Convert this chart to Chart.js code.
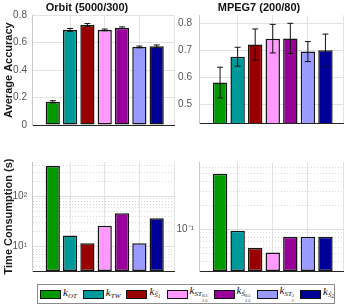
<!DOCTYPE html>
<html>
<head>
<meta charset="utf-8">
<script src="https://cdn.jsdelivr.net/npm/chart.js@4"></script>
<style>
  body{margin:0;background:#fff;width:349px;height:308px;position:relative;overflow:hidden;}
  canvas{position:absolute;}
  #legend{position:absolute;left:37px;top:284px;width:298px;height:20px;border:1px solid #8c8c8c;background:#fff;
    display:flex;align-items:center;padding-left:2px;box-sizing:border-box;font-family:"Liberation Serif","DejaVu Serif",serif;}
  .it{display:flex;align-items:center;margin-right:6px;}
  .sw{width:19px;height:7px;border:1px solid #111;margin-right:2px;}
  .lb{font-style:italic;font-size:11px;color:#111;line-height:11px;white-space:nowrap;}
  .lb sub{font-size:7px;vertical-align:-2px;}
  .lb sub sub{font-size:5.5px;vertical-align:-1px;}
  .stk{display:inline-flex;flex-direction:column;font-size:4.5px;line-height:4.5px;vertical-align:-1px;}
</style>
</head>
<body>
<canvas id="c1" width="180" height="136" style="left:0;top:0"></canvas>
<canvas id="c2" width="174" height="136" style="left:175px;top:0"></canvas>
<canvas id="c3" width="180" height="132" style="left:0;top:150px"></canvas>
<canvas id="c4" width="174" height="132" style="left:175px;top:150px"></canvas>
<div id="legend"></div>
<script>
// データ
var methods = ['k_OT', 'k_TW', 'k_S1', 'k_ST0.5_1.5', 'k_S0.5_1.5', 'k_ST2_1', 'k_S2'];
var colors = ['#009900', '#009999', '#990000', '#ff99ff', '#990099', '#9999ff', '#000099'];
var orbitAcc = [0.169, 0.693, 0.729, 0.693, 0.709, 0.569, 0.573];
var orbitErr = [0.008, 0.010, 0.010, 0.006, 0.006, 0.006, 0.010];
var mpegAcc = [0.580, 0.676, 0.721, 0.743, 0.744, 0.695, 0.700];
var mpegErr = [0.057, 0.035, 0.058, 0.053, 0.056, 0.037, 0.060];
var orbitTime = [398, 16.7, 11.7, 26.2, 46.4, 11.7, 36.6];
var mpegTime = [0.50, 0.096, 0.0585, 0.0513, 0.081, 0.081, 0.081];

// 凡例 (HTML)
var legendHtml = [
  'k<sub>OT</sub>',
  'k<sub>TW</sub>',
  'k<sub>Ŝ<sub>1</sub></sub>',
  'k<sub>ST<span class="stk"><span>0.5</span><span>1.5</span></span></sub>',
  'k<sub>Ŝ<span class="stk"><span>0.5</span><span>1.5</span></span></sub>',
  'k<sub>ST<span class="stk"><span>2</span><span>1</span></span></sub>',
  'k<sub>Ŝ<sub>2</sub></sub>'
];
var lg = document.getElementById('legend');
for (var i = 0; i < methods.length; i++) {
  lg.innerHTML += '<div class="it"><div class="sw" style="background:' + colors[i] + '"></div><span class="lb">' + legendHtml[i] + '</span></div>';
}

Chart.defaults.font.family = '"Liberation Sans", Arial, sans-serif';
Chart.defaults.font.size = 10;
Chart.defaults.color = '#555';
Chart.defaults.animation = false;

// エラーバー
var errPlugin = {
  id: 'errbars',
  afterDatasetsDraw: function(chart, args, opts) {
    if (!opts.err) return;
    var ctx = chart.ctx;
    var meta = chart.getDatasetMeta(0);
    var y = chart.scales.y;
    var vals = chart.data.datasets[0].data;
    ctx.save();
    ctx.strokeStyle = '#111';
    ctx.lineWidth = 1;
    for (var i = 0; i < vals.length; i++) {
      var x = meta.data[i].x;
      var t = y.getPixelForValue(vals[i].y + opts.err[i]);
      var b = y.getPixelForValue(vals[i].y - opts.err[i]);
      ctx.beginPath();
      ctx.moveTo(x, t); ctx.lineTo(x, b);
      ctx.moveTo(x - 3, t); ctx.lineTo(x + 3, t);
      ctx.moveTo(x - 3, b); ctx.lineTo(x + 3, b);
      ctx.stroke();
    }
    ctx.restore();
  }
};

var sup = {'0':'⁰','1':'¹','2':'²','3':'³','4':'⁴','5':'⁵','6':'⁶','7':'⁷','8':'⁸','9':'⁹','-':'⁻'};
function isMajor(v) {
  var e = Math.floor(Math.log10(v) + 1e-9);
  return Math.abs(v / Math.pow(10, e) - 1) < 1e-6;
}

function makeChart(id, vals, title, yTitle, yAxisW, yOpts, err) {
  var xScale = {
    type: 'linear', min: -0.2, max: 8, offset: false,
    afterBuildTicks: function(s) { s.ticks = [{value: 2}, {value: 4}, {value: 6}, {value: 8}]; },
    afterFit: function(s) { s.height = 0; },
    ticks: {display: false},
    grid: {color: '#e2e2e2', drawTicks: false, offset: false},
    border: {color: '#262626', width: 1}
  };
  var yScale = Object.assign({
    afterFit: function(s) { s.width = yAxisW; },
    title: {display: yTitle != null, text: yTitle, color: '#1a1a1a', font: {size: 11, weight: 'bold'}, padding: {top: 2, bottom: 0}},
    grid: {drawTicks: false, color: '#e2e2e2'},
    border: {color: '#c8c8c8', width: 1}
  }, yOpts);
  return new Chart(document.getElementById(id).getContext('2d'), {
    type: 'bar',
    data: {
      datasets: [{
        data: vals.map(function(v, i) { return {x: i + 1, y: v}; }),
        backgroundColor: colors,
        borderColor: '#151515',
        borderWidth: 1.5,
        borderSkipped: false,
        categoryPercentage: 1,
        barPercentage: 0.82
      }]
    },
    options: {
      responsive: false,
      layout: {padding: {left: 0, right: 6, top: title ? 0 : 12, bottom: title ? 0.7 : 0}},
      plugins: {
        legend: {display: false},
        tooltip: {enabled: false},
        title: {display: !!title, text: title, color: '#111', font: {size: 11, weight: 'bold'}, padding: {top: 1, bottom: 1}},
        errbars: {err: err}
      },
      scales: {x: xScale, y: yScale}
    },
    plugins: [errPlugin]
  });
}

function logOpts(min, max) {
  return {
    type: 'logarithmic', min: min, max: max,
    afterBuildTicks: function(s) {
      s.ticks = s.ticks.filter(function(t) {
        var v = t.value;
        var e = Math.floor(Math.log10(v) + 1e-9);
        var m = v / Math.pow(10, e);
        return Math.abs(m - Math.round(m)) < 1e-6 && v > min * 1.0001 && v < max * 0.9999;
      });
    },
    ticks: {
      autoSkip: false, padding: 5,
      callback: function(v) {
        if (!isMajor(v)) return '';
        var e = String(Math.round(Math.log10(v)));
        return '10' + e.split('').map(function(c) { return sup[c]; }).join('');
      }
    },
    grid: {
      drawTicks: false,
      color: function(c) { return c.tick && isMajor(c.tick.value) ? '#dedede' : '#d9d9d9'; },
      borderDash: function(c) { return c.tick && !isMajor(c.tick.value) ? [1, 2] : []; }
    },
    border: {
      color: '#c8c8c8', width: 1,
      dash: function(c) { return c.tick && !isMajor(c.tick.value) ? [1, 2] : []; }
    }
  };
}

makeChart('c1', orbitAcc, 'Orbit (5000/300)', 'Average Accuracy', 32, {
  min: 0, max: 0.8,
  ticks: {stepSize: 0.2, padding: 5, callback: function(v) { return v === 0 ? '0' : v.toFixed(1); }}
}, orbitErr);

makeChart('c2', mpegAcc, 'MPEG7 (200/80)', null, 24, {
  min: 0.43, max: 0.83,
  afterBuildTicks: function(s) { s.ticks = [{value: 0.5}, {value: 0.6}, {value: 0.7}, {value: 0.8}]; },
  ticks: {padding: 7, callback: function(v) { return v.toFixed(1); }}
}, mpegErr);

makeChart('c3', orbitTime, null, 'Time Consumption (s)', 32, logOpts(3.3, 480), null);
makeChart('c4', mpegTime, null, null, 24, logOpts(0.03, 0.70), null);
</script>
</body>
</html>
